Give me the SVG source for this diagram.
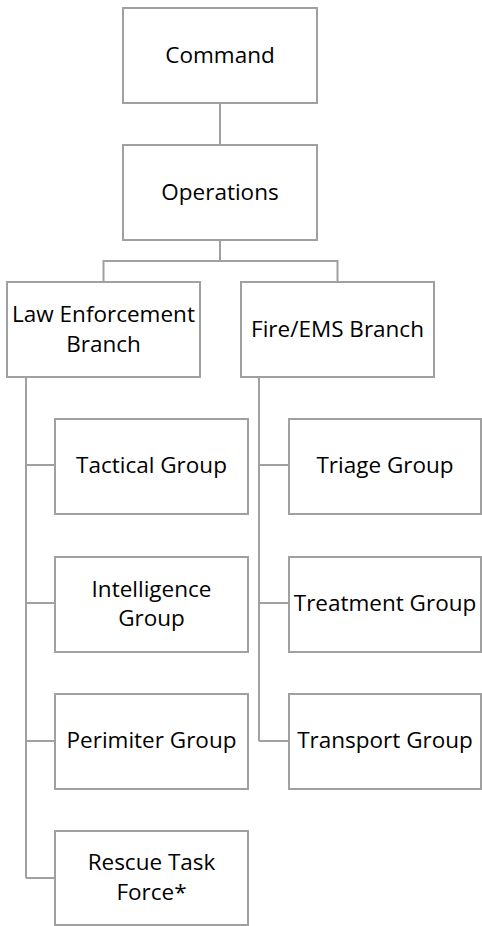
<svg xmlns="http://www.w3.org/2000/svg" width="482" height="926" viewBox="0 0 482 926">
<style>
.box{fill:#fff;stroke:#a0a0a0;stroke-width:2}
.ln{fill:none;stroke:#a0a0a0;stroke-width:2}
text{font-family:"Open Sans","Liberation Sans",sans-serif;font-size:22.5px;fill:#000;text-anchor:middle}
</style>
<rect width="482" height="926" fill="#fff"/>
<g id="connectors">
<path class="ln" d="M220,103V145"/>
<path class="ln" d="M220,240V261M103.5,282V261H337.5V282"/>
<path class="ln" d="M26,377V878M26,465H55M26,603H55M26,741H55M26,878H55"/>
<path class="ln" d="M259,377V741M259,465H289M259,603H289M259,741H289"/>
</g>
<g id="command"><rect class="box" x="123" y="8" width="194" height="95"/><text x="220" y="63">Command</text></g>
<g id="operations"><rect class="box" x="123" y="145" width="194" height="95"/><text x="220" y="200">Operations</text></g>
<g id="law"><rect class="box" x="7" y="282" width="193" height="95"/><text x="103.5" y="322">Law Enforcement</text><text x="103.5" y="352">Branch</text></g>
<g id="fire"><rect class="box" x="241" y="282" width="193" height="95"/><text x="337.5" y="337">Fire/EMS Branch</text></g>
<g id="tactical"><rect class="box" x="55" y="419" width="193" height="95"/><text x="151.5" y="473">Tactical Group</text></g>
<g id="intelligence"><rect class="box" x="55" y="557" width="193" height="95"/><text x="151.5" y="597">Intelligence</text><text x="151.5" y="626">Group</text></g>
<g id="perimiter"><rect class="box" x="55" y="694" width="193" height="95"/><text x="151.5" y="748">Perimiter Group</text></g>
<g id="rescue"><rect class="box" x="55" y="831" width="193" height="94"/><text x="151.5" y="870">Rescue Task</text><text x="151.5" y="900">Force*</text></g>
<g id="triage"><rect class="box" x="289" y="419" width="192" height="95"/><text x="385" y="473">Triage Group</text></g>
<g id="treatment"><rect class="box" x="289" y="557" width="192" height="95"/><text x="385" y="611">Treatment Group</text></g>
<g id="transport"><rect class="box" x="289" y="694" width="192" height="95"/><text x="385" y="748">Transport Group</text></g>
</svg>
